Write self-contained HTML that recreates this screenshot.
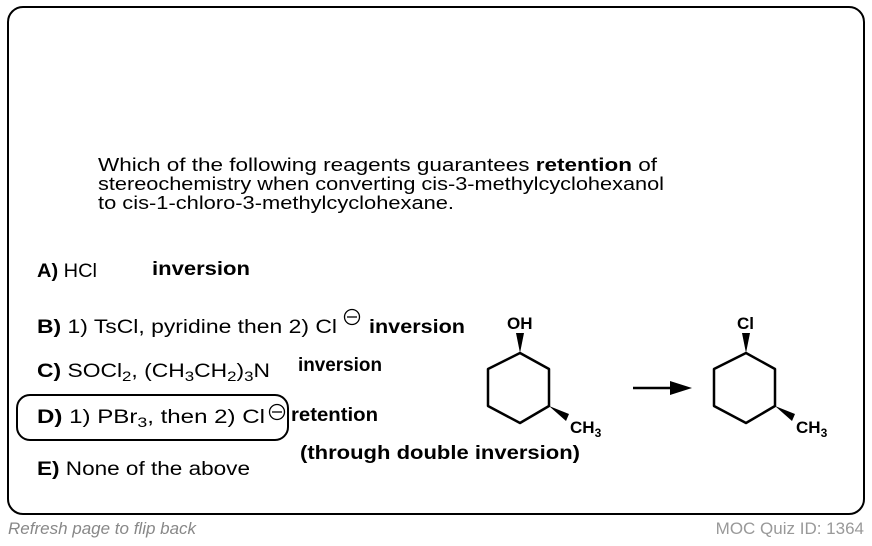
<!DOCTYPE html>
<html><head><meta charset="utf-8"><style>
html,body{margin:0;padding:0;background:#fff;}
svg{display:block;font-family:"Liberation Sans",Arial,sans-serif;}
</style></head><body>
<svg width="872" height="546" viewBox="0 0 872 546" xmlns="http://www.w3.org/2000/svg">
<rect x="8" y="7" width="856" height="507" rx="15" fill="#fff" stroke="#000" stroke-width="2"/>
<g font-size="18" fill="#000">
<text x="98" y="171" textLength="559" lengthAdjust="spacingAndGlyphs">Which of the following reagents guarantees <tspan font-weight="bold">retention</tspan> of</text>
<text x="98" y="190" textLength="566" lengthAdjust="spacingAndGlyphs">stereochemistry when converting cis-3-methylcyclohexanol</text>
<text x="98" y="209" textLength="356" lengthAdjust="spacingAndGlyphs">to cis-1-chloro-3-methylcyclohexane.</text>
</g>
<g font-size="19" fill="#000">
<text x="37" y="277" textLength="60" lengthAdjust="spacingAndGlyphs"><tspan font-weight="bold">A)</tspan> HCl</text>
<text x="152" y="275" font-weight="bold" textLength="98" lengthAdjust="spacingAndGlyphs">inversion</text>

<text x="37" y="333" textLength="300" lengthAdjust="spacingAndGlyphs"><tspan font-weight="bold">B)</tspan> 1) TsCl, pyridine  then 2) Cl</text>
<text x="369" y="333" font-weight="bold" textLength="96" lengthAdjust="spacingAndGlyphs">inversion</text>

<text x="37" y="377" textLength="233" lengthAdjust="spacingAndGlyphs"><tspan font-weight="bold">C)</tspan> SOCl<tspan font-size="14" dy="4">2</tspan><tspan dy="-4">, (CH</tspan><tspan font-size="14" dy="4">3</tspan><tspan dy="-4">CH</tspan><tspan font-size="14" dy="4">2</tspan><tspan dy="-4">)</tspan><tspan font-size="14" dy="4">3</tspan><tspan dy="-4">N</tspan></text>
<text x="298" y="371" font-weight="bold" textLength="84" lengthAdjust="spacingAndGlyphs">inversion</text>

<text x="37" y="423" textLength="228" lengthAdjust="spacingAndGlyphs"><tspan font-weight="bold">D)</tspan> 1) PBr<tspan font-size="14" dy="4">3</tspan><tspan dy="-4">, then 2) Cl</tspan></text>
<text x="291" y="421" font-weight="bold" textLength="87" lengthAdjust="spacingAndGlyphs">retention</text>
<text x="300" y="459" font-weight="bold" textLength="280" lengthAdjust="spacingAndGlyphs">(through double inversion)</text>

<text x="37" y="475" textLength="213" lengthAdjust="spacingAndGlyphs"><tspan font-weight="bold">E)</tspan> None of the above</text>
</g>
<g fill="none" stroke="#000" stroke-width="1.3">
<circle cx="352" cy="317" r="7.5"/><line x1="347" y1="317" x2="357" y2="317"/>
<circle cx="277" cy="412" r="7.5"/><line x1="272" y1="412" x2="282" y2="412"/>
</g>
<rect x="17" y="395" width="271" height="45" rx="13" fill="none" stroke="#000" stroke-width="2"/>

<g stroke="#000" stroke-width="2.5" fill="none" stroke-linejoin="round">
<polygon points="520,353 549,369 549,406 520,423 488,406 488,369"/>
<polygon points="746,353 775,369 775,406 746,423 714,406 714,369"/>
<line x1="633" y1="388" x2="672" y2="388"/>
</g>
<polygon points="692,388 670,381 670,395" fill="#000"/>
<polygon points="520,353 516,333 524,333" fill="#000"/>
<polygon points="549,406 569,414 566,421" fill="#000"/>
<polygon points="746,353 742,333 750,333" fill="#000"/>
<polygon points="775,406 795,414 792,421" fill="#000"/>
<g font-size="17" font-weight="bold">
<text x="507" y="329">OH</text>
<text x="737" y="329">Cl</text>
<text x="570" y="433">CH<tspan font-size="12" dy="4">3</tspan></text>
<text x="796" y="433">CH<tspan font-size="12" dy="4">3</tspan></text>
</g>

<text x="8" y="534" font-size="17" font-style="italic" fill="#888">Refresh page to flip back</text>
<text x="864" y="534" font-size="17" fill="#999" text-anchor="end">MOC Quiz ID: 1364</text>
</svg>
</body></html>
